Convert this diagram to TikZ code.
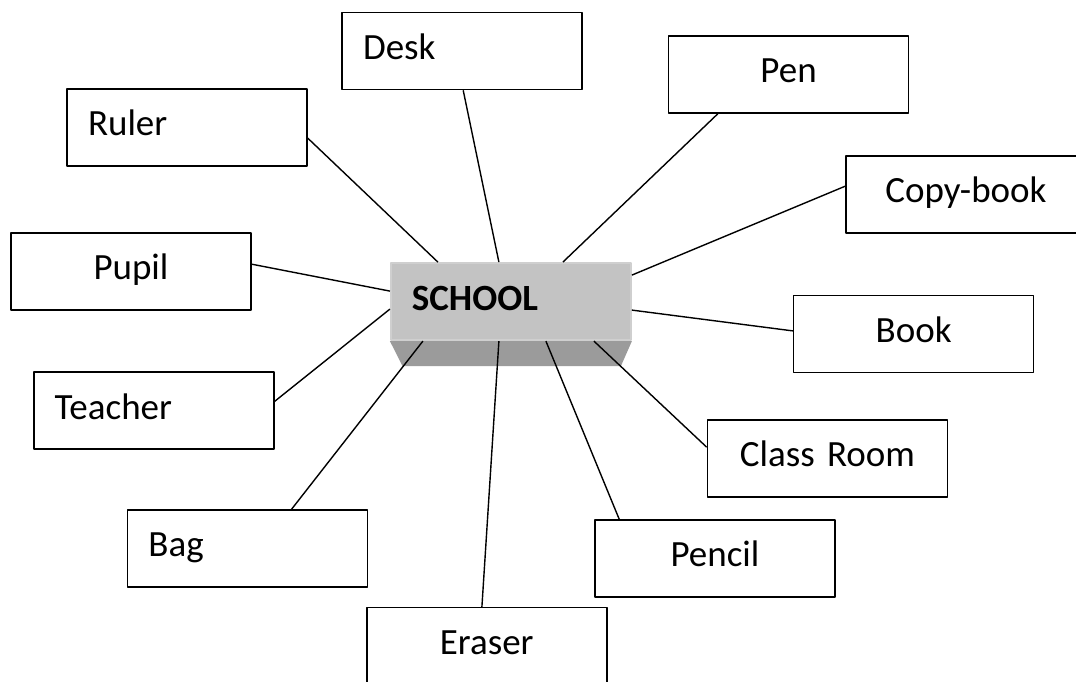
\documentclass[tikz,border=0pt]{standalone}
\usepackage{fontspec}
\setmainfont{Carlito}
\usepackage{xcolor}
\definecolor{faceGray}{HTML}{C3C3C3}
\definecolor{edgeGray}{HTML}{CFCFCF}
\definecolor{sideGray}{HTML}{9B9B9B}

\begin{document}
\begin{tikzpicture}[line join=bevel,
  every node/.style={font=\fontsize{37bp}{44bp}\selectfont},
  cbox/.style={draw,line width=1.6bp,rectangle,inner xsep=21bp,inner ysep=0pt,text width=198bp,align=center,minimum height=77bp,text height=47bp,text depth=30bp},
  lbox/.style={cbox,align=left},
  link/.style={line width=1.4bp}]
%%
\useasboundingbox (0bp,0bp) rectangle (1076bp,682bp);
\clip (0bp,0bp) rectangle (1076bp,682bp);
  \node (school) at (510.9bp,380.4bp) [lbox,fill=faceGray,draw=edgeGray,line width=2bp,font=\fontsize{37bp}{44bp}\selectfont\bfseries] {SCHOOL};
  \fill [sideGray] (school.south west) -- (school.south east) -- ([xshift=-11bp,yshift=-25bp]school.south east) -- ([xshift=12.6bp,yshift=-25bp]school.south west) -- cycle;
  \node (desk) at (462bp,631bp) [lbox] {Desk};
  \node (ruler) at (187bp,554.5bp) [lbox] {Ruler};
  \node (pupil) at (131bp,410.5bp) [cbox] {Pupil};
  \node (pen) at (788.6bp,607.5bp) [cbox] {Pen};
  \node (copyBook) at (966bp,487.5bp) [cbox] {Copy-book};
  \node (book) at (913.6bp,347.8bp) [cbox] {Book};
  \node (classRoom) at (827.5bp,223.5bp) [cbox] {Class Room};
  \node (pencil) at (715bp,123.5bp) [cbox] {Pencil};
  \node (eraser) at (486.7bp,35.8bp) [cbox] {Eraser};
  \node (bag) at (247.4bp,133.5bp) [lbox] {Bag};
  \node (teacher) at (153.7bp,271.2bp) [lbox] {Teacher};
  \draw [link] ([yshift=-50bp]ruler.north east) -- ([xshift=48bp]school.north west);
  \draw [link] ([xshift=122bp]desk.south west) -- ([xshift=109bp]school.north west);
  \draw [link] ([xshift=50bp]pen.south west) -- ([xshift=173bp]school.north west);
  \draw [link] ([yshift=-31bp]copyBook.north west) -- ([yshift=-13bp]school.north east);
  \draw [link] ([yshift=-36bp]book.north west) -- ([yshift=-48bp]school.north east);
  \draw [link] ([yshift=-28bp]classRoom.north west) -- ([xshift=204bp]school.south west);
  \draw [link] ([xshift=25bp]pencil.north west) -- ([xshift=156bp]school.south west);
  \draw [link] ([xshift=116bp]eraser.north west) -- ([xshift=109bp]school.south west);
  \draw [link] ([xshift=165bp]bag.north west) -- ([xshift=33bp]school.south west);
  \draw [link] ([yshift=-30bp]teacher.north east) -- ([yshift=-47bp]school.north west);
  \draw [link] ([yshift=-32bp]pupil.north east) -- ([yshift=-29bp]school.north west);
%
\end{tikzpicture}
\end{document}
